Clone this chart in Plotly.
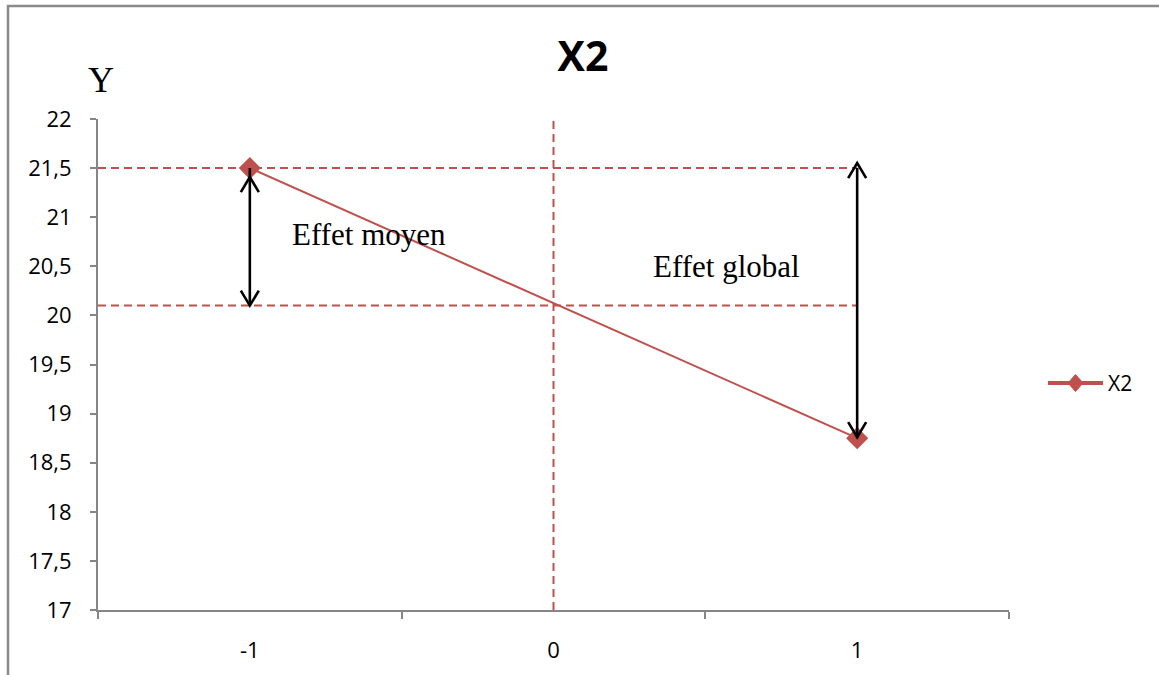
import plotly.graph_objects as go

# Factor levels and measured response
x_levels = [-1, 1]
y_values = [21.5, 18.75]
series_name = "X2"

# Reference levels for the effect annotations
mean_level = 20.1      # overall mean (horizontal dashed line)
center_x = 0           # centre of the factor range (vertical dashed line)

# Axis definitions
y_tick_values = [17, 17.5, 18, 18.5, 19, 19.5, 20, 20.5, 21, 21.5, 22]
y_tick_text = [f"{v:g}".replace(".", ",") for v in y_tick_values]
x_tick_values = [-1, 0, 1]
x_tick_text = ["-1", "0", "1"]
x_boundary_ticks = [-1.5, -0.5, 0.5, 1.5]
x_range = [-1.5, 1.5]
y_range = [17, 22]

RED = "#C0504D"
AXIS_GREY = "#868686"
TICK_FONT = dict(family="Open Sans", size=22, color="#000000")
SERIF = "Liberation Serif"

# Plot-area geometry in pixels (used to place the frame and legend in paper units)
PLOT_L, PLOT_R, PLOT_T, PLOT_B = 98, 1009, 119, 610
PW, PH = PLOT_R - PLOT_L, PLOT_B - PLOT_T


def px_x(px):
    return (px - PLOT_L) / PW


def px_y(py):
    return (PLOT_B - py) / PH


fig = go.Figure()

fig.add_trace(go.Scatter(
    x=x_levels, y=y_values, name=series_name, mode="lines+markers",
    line=dict(color=RED, width=2),
    marker=dict(symbol="diamond", size=17, color=RED),
    showlegend=False,
))

dash = "8px,5px"
hi_y, lo_y = y_values[0], y_values[1]
left_x, right_x = x_levels[0], x_levels[1]

shapes = []
# Dashed guide lines
guide = dict(color=RED, width=2, dash=dash)
shapes.append(dict(type="line", xref="x", yref="y", x0=x_range[0], x1=right_x,
                   y0=hi_y, y1=hi_y, line=guide))
shapes.append(dict(type="line", xref="x", yref="y", x0=x_range[0], x1=right_x,
                   y0=mean_level, y1=mean_level, line=guide))
shapes.append(dict(type="line", xref="x", yref="y", x0=center_x, x1=center_x,
                   y0=y_range[0], y1=y_range[1], line=guide))


def arrow(x, y_top, y_bot, top_off=0, bot_off=0):
    """Double-headed vertical arrow with open chevron heads."""
    out = [dict(type="line", xref="x", yref="y", x0=x, x1=x, y0=y_top, y1=y_bot,
                line=dict(color="black", width=2.6), layer="above")]
    t = top_off
    out.append(dict(type="path", xref="x", yref="y", xsizemode="pixel", ysizemode="pixel",
                    xanchor=x, yanchor=y_top,
                    path=f"M-9,{t - 15} L0,{t} L9,{t - 15}",
                    line=dict(color="black", width=2.6), layer="above"))
    b = bot_off
    out.append(dict(type="path", xref="x", yref="y", xsizemode="pixel", ysizemode="pixel",
                    xanchor=x, yanchor=y_bot,
                    path=f"M-9,{b + 15} L0,{b} L9,{b + 15}",
                    line=dict(color="black", width=2.6), layer="above"))
    return out


shapes += arrow(left_x, hi_y, mean_level, top_off=-9, bot_off=0)
shapes += arrow(right_x, hi_y, lo_y, top_off=5, bot_off=1)

# Outer chart frame
shapes.append(dict(type="rect", xref="paper", yref="paper",
                   x0=px_x(8), x1=px_x(1175), y0=px_y(700), y1=px_y(6),
                   line=dict(color="#8A8A8A", width=2.5), fillcolor="rgba(0,0,0,0)",
                   layer="below"))

# Legend entry: line with diamond, followed by the series name
LEG_Y = px_y(383)
shapes.append(dict(type="line", xref="paper", yref="paper",
                   x0=px_x(1048), x1=px_x(1103), y0=LEG_Y, y1=LEG_Y,
                   line=dict(color=RED, width=4)))
shapes.append(dict(type="path", xref="paper", yref="paper",
                   xsizemode="pixel", ysizemode="pixel",
                   xanchor=px_x(1075.5), yanchor=LEG_Y,
                   path="M0,8.5 L7.5,0 L0,-8.5 L-7.5,0 Z",
                   fillcolor=RED, line=dict(color=RED, width=1)))

annotations = [
    dict(text="Effet moyen", xref="x", yref="y", x=-0.607, y=20.82,
         showarrow=False, xanchor="center", yanchor="middle",
         font=dict(family=SERIF, size=31, color="#000000")),
    dict(text="Effet global", xref="x", yref="y", x=0.57, y=20.50,
         showarrow=False, xanchor="center", yanchor="middle",
         font=dict(family=SERIF, size=31, color="#000000")),
    dict(text="Y", xref="paper", yref="paper", x=px_x(100.5), y=px_y(80),
         showarrow=False, xanchor="center", yanchor="middle",
         font=dict(family=SERIF, size=36, color="#000000")),
    dict(text=series_name, xref="paper", yref="paper", x=px_x(1106), y=LEG_Y,
         showarrow=False, xanchor="left", yanchor="middle",
         font=dict(family="Open Sans", size=21, color="#000000")),
]

fig.update_layout(
    width=1159, height=675,
    margin=dict(l=PLOT_L, r=1159 - PLOT_R, t=PLOT_T, b=675 - PLOT_B),
    paper_bgcolor="white", plot_bgcolor="white",
    separators=",.",
    title=dict(text="<b>X2</b>", x=0.503, xanchor="center", y=1 - 57 / 675,
               yanchor="middle", font=dict(family="Open Sans", size=41, color="#000000")),
    showlegend=False,
    shapes=shapes,
    annotations=annotations,
)

fig.update_xaxes(
    range=x_range, showgrid=False, zeroline=False,
    showline=True, linecolor=AXIS_GREY, linewidth=2,
    tickmode="array", tickvals=x_tick_values, ticktext=x_tick_text,
    ticks="", ticklabelstandoff=20, tickfont=TICK_FONT,
    minor=dict(tickmode="array", tickvals=x_boundary_ticks, ticks="outside",
               ticklen=7, tickcolor=AXIS_GREY, tickwidth=2, showgrid=False),
)
fig.update_yaxes(
    range=y_range, showgrid=False, zeroline=False,
    showline=True, linecolor=AXIS_GREY, linewidth=2,
    tickmode="array", tickvals=y_tick_values, ticktext=y_tick_text,
    ticks="outside", ticklen=6, tickcolor=AXIS_GREY, tickwidth=2,
    ticklabelstandoff=14, tickfont=TICK_FONT,
)

fig.write_html("out.html")
